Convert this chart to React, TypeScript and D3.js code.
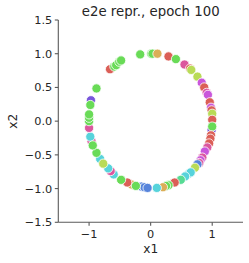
import * as d3 from "d3"

const palette = [
  "#db5f57", "#dbae57", "#b9db57", "#69db57", "#57db94",
  "#57d3db", "#5784db", "#7957db", "#c957db", "#db579e",
]

const x1 = [
  -0.88, -0.66, -0.59, -0.56, -0.51, -0.48, -0.17, 0.01, 0.03, 0.11,
  0.29, 0.41, 0.55, 0.64, 0.66, 0.76, 0.83, 0.87, 0.91, 0.93,
  0.96, 0.98, 0.99, 1.0, 1.0, 0.99, 1.0, 0.98, 0.97, 0.95,
  0.92, 0.88, 0.84, 0.81, 0.79, 0.76, 0.72, 0.62, 0.65, 0.56,
  0.49, 0.39, 0.29, 0.25, 0.2, 0.1, -0.15, -0.1, -0.05, -0.31,
  -0.24, -0.38, -0.48, -0.6, -0.65, -0.69, -0.82, -0.77, -0.88, -0.96,
  -0.98, -0.94, -1.0, -1.0, -1.0, -1.0, -0.97, -0.98,
]
const x2 = [
  0.485, 0.77, 0.81, 0.83, 0.88, 0.9, 0.99, 1.0, 1.0, 1.0,
  0.96, 0.92, 0.84, 0.78, 0.76, 0.66, 0.57, 0.5, 0.42, 0.39,
  0.28, 0.2, 0.16, 0.11, 0.02, -0.13, -0.08, -0.21, -0.26, -0.33,
  -0.39, -0.45, -0.54, -0.58, -0.62, -0.64, -0.69, -0.78, -0.76, -0.82,
  -0.87, -0.91, -0.95, -0.96, -0.98, -0.99, -0.97, -0.98, -0.99, -0.94,
  -0.96, -0.91, -0.87, -0.79, -0.74, -0.7, -0.56, -0.63, -0.47, -0.3,
  -0.23, -0.36, -0.1, 0.0, 0.05, 0.1, 0.31, 0.24,
]
const label = [
  3, 0, 3, 3, 3, 3, 3, 3, 3, 1,
  0, 3, 9, 0, 2, 2, 8, 0, 9, 8,
  0, 8, 0, 2, 0, 7, 3, 0, 0, 0,
  9, 8, 9, 8, 9, 6, 2, 5, 5, 5,
  4, 0, 3, 3, 1, 5, 6, 6, 6, 1,
  3, 0, 3, 5, 9, 5, 5, 2, 3, 9,
  5, 3, 9, 3, 3, 3, 7, 3,
]

const xTicks = [-1, 0, 1]
const yTicks = [-1.5, -1.0, -0.5, 0.0, 0.5, 1.0, 1.5]

const W = 249
const H = 263

export default function App() {
  const x = d3.scaleLinear().domain([-1.5, 1.5]).range([58.3, 243])
  const y = d3.scaleLinear().domain([-1.5, 1.5]).range([222.3, 20])
  const ink = "#262626"
  const spine = "#5a5a5a"
  const font = "DejaVu Sans"

  return (
    <svg
      width={W}
      height={H}
      style={{ position: "absolute", left: 0, top: 0, background: "#fff" }}
      fontFamily={font}
    >
      <text x={150.7} y={16} textAnchor="middle" fontSize={13.3} fill={ink}>
        e2e repr., epoch 100
      </text>

      {/* spines */}
      <line x1={x(-1.5)} x2={x(-1.5)} y1={y(-1.5)} y2={y(1.5)} stroke={spine} strokeWidth={1.1} />
      <line x1={x(-1.5)} x2={x(1.5)} y1={y(-1.5)} y2={y(-1.5)} stroke={spine} strokeWidth={1.1} />

      {yTicks.map((t) => (
        <g key={t} transform={`translate(${x(-1.5)},${y(t)})`}>
          <line x1={-3.5} x2={0} stroke={spine} strokeWidth={1.1} />
          <text x={-6} dy="0.35em" textAnchor="end" fontSize={11.3} fill={ink}>
            {t < 0 ? `\u2212${Math.abs(t).toFixed(1)}` : t.toFixed(1)}
          </text>
        </g>
      ))}
      {xTicks.map((t) => (
        <g key={t} transform={`translate(${x(t)},${y(-1.5)})`}>
          <line y1={0} y2={3.5} stroke={spine} strokeWidth={1.1} />
          <text y={15.8} textAnchor="middle" fontSize={11.3} fill={ink}>
            {t < 0 ? `\u2212${Math.abs(t)}` : t}
          </text>
        </g>
      ))}

      <text x={150.7} y={253} textAnchor="middle" fontSize={12.2} fill={ink}>
        x1
      </text>
      <text
        transform={`translate(17,${y(0)}) rotate(-90)`}
        textAnchor="middle"
        fontSize={12.2}
        fill={ink}
      >
        x2
      </text>

      <g>
        {x1.map((v, i) => (
          <circle
            key={i}
            cx={x(v)}
            cy={y(x2[i])}
            r={4.6}
            fill={palette[label[i]]}
            stroke="#fff"
            strokeWidth={0.8}
          />
        ))}
      </g>
    </svg>
  )
}
